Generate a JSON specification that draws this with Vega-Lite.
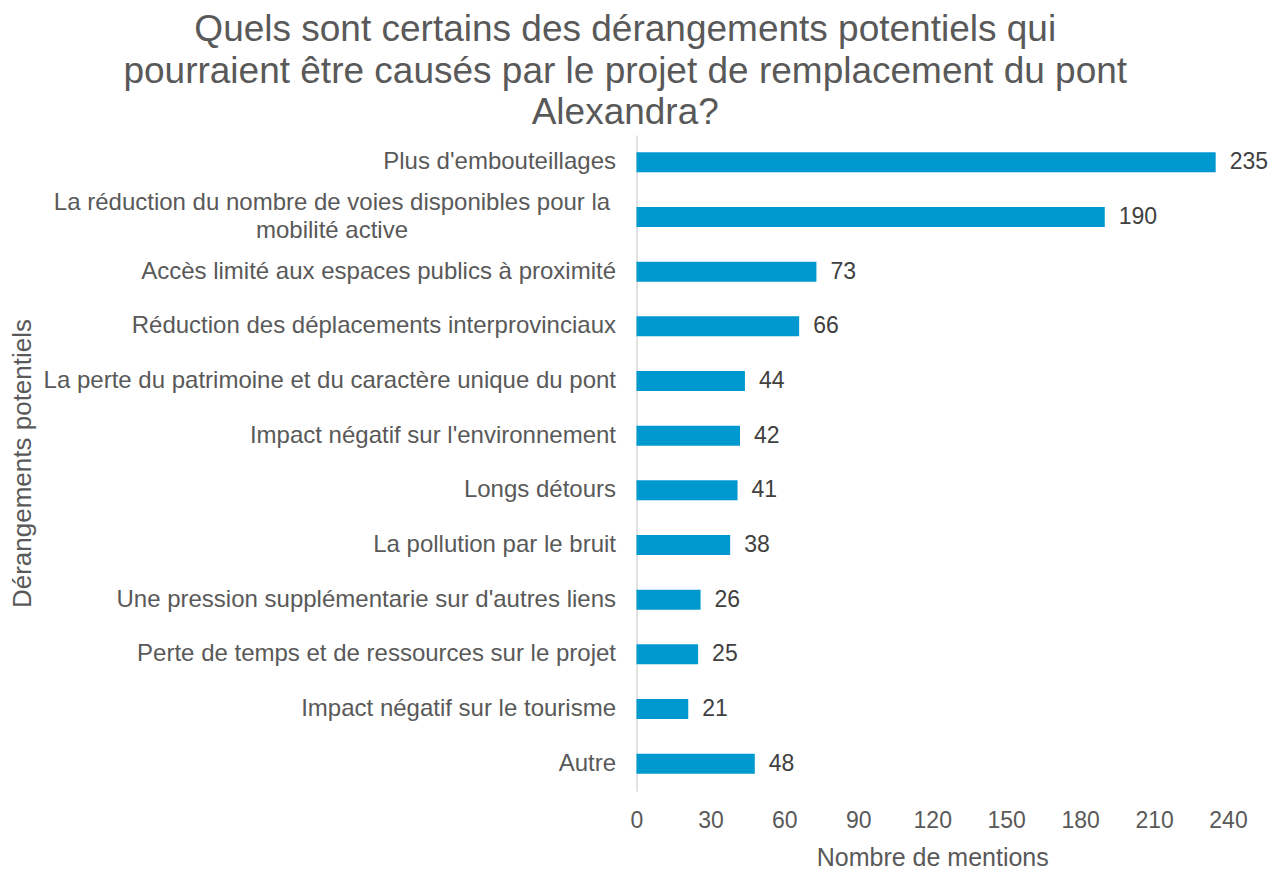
{
  "$schema": "https://vega.github.io/schema/vega-lite/v6.json",
  "autosize": {"type": "none"},
  "width": 591.5,
  "height": 656,
  "padding": {"left": 636.5, "top": 135, "right": 57, "bottom": 80},
  "background": "white",
  "config": {
    "view": {"stroke": null},
    "font": "Liberation Sans",
    "text": {"font": "Liberation Sans"}
  },
  "title": {
    "text": ["Quels sont certains des dérangements potentiels qui", "pourraient être causés par le projet de remplacement du pont", "Alexandra?"],
    "font": "Liberation Sans",
    "fontSize": 37,
    "fontWeight": "normal",
    "color": "#595959",
    "anchor": "middle",
    "frame": "group",
    "dx": -307,
    "offset": 3,
    "lineHeight": 41.5
  },
  "data": {
    "values": [
      {"categorie": "Plus d'embouteillages", "mentions": 235},
      {"categorie": "La réduction du nombre de voies disponibles pour la mobilité active", "mentions": 190},
      {"categorie": "Accès limité aux espaces publics à proximité", "mentions": 73},
      {"categorie": "Réduction des déplacements interprovinciaux", "mentions": 66},
      {"categorie": "La perte du patrimoine et du caractère unique du pont", "mentions": 44},
      {"categorie": "Impact négatif sur l'environnement", "mentions": 42},
      {"categorie": "Longs détours", "mentions": 41},
      {"categorie": "La pollution par le bruit", "mentions": 38},
      {"categorie": "Une pression supplémentarie sur d'autres liens", "mentions": 26},
      {"categorie": "Perte de temps et de ressources sur le projet", "mentions": 25},
      {"categorie": "Impact négatif sur le tourisme", "mentions": 21},
      {"categorie": "Autre", "mentions": 48}
    ]
  },
  "encoding": {
    "y": {
      "field": "categorie",
      "type": "nominal",
      "sort": null,
      "scale": {"paddingInner": 0.634, "paddingOuter": 0.317},
      "axis": {
        "title": "Dérangements potentiels",
        "titleFont": "Liberation Sans",
        "titleFontSize": 26,
        "titleFontWeight": "normal",
        "titleColor": "#595959",
        "titleAngle": -90,
        "titleAlign": "center",
        "titleBaseline": "middle",
        "titleX": -614,
        "titleY": 328,
        "domainColor": "#d9d9d9",
        "domainWidth": 1.5,
        "ticks": false,
        "labelFont": "Liberation Sans",
        "labelFontSize": 24,
        "labelColor": "#595959",
        "labelLimit": 700,
        "labelLineHeight": 28,
        "labelExpr": "length(datum.value) > 60 ? [substring(datum.value, 0, 51), substring(datum.value, 52)] : datum.value",
        "labelAlign": {"condition": {"test": "length(datum.value) > 60", "value": "center"}, "value": "right"},
        "labelPadding": {"condition": {"test": "length(datum.value) > 60", "value": 305}, "value": 21},
        "labelOffset": {"condition": {"test": "length(datum.value) > 60", "value": -14}, "value": 0}
      }
    },
    "x": {
      "field": "mentions",
      "type": "quantitative",
      "scale": {"domain": [0, 240], "nice": false},
      "axis": {
        "title": "Nombre de mentions",
        "titleFont": "Liberation Sans",
        "titleFontSize": 25,
        "titleFontWeight": "normal",
        "titleColor": "#595959",
        "titlePadding": 13,
        "values": [0, 30, 60, 90, 120, 150, 180, 210, 240],
        "grid": false,
        "domain": false,
        "ticks": false,
        "labelFont": "Liberation Sans",
        "labelFontSize": 23,
        "labelColor": "#595959",
        "labelPadding": 18,
        "labelFlush": false
      }
    }
  },
  "layer": [
    {"mark": {"type": "bar", "color": "#0099cf"}},
    {
      "mark": {"type": "text", "align": "left", "baseline": "middle", "dx": 14, "font": "Liberation Sans", "fontSize": 23, "color": "#404040"},
      "encoding": {"text": {"field": "mentions", "type": "quantitative"}}
    }
  ]
}
